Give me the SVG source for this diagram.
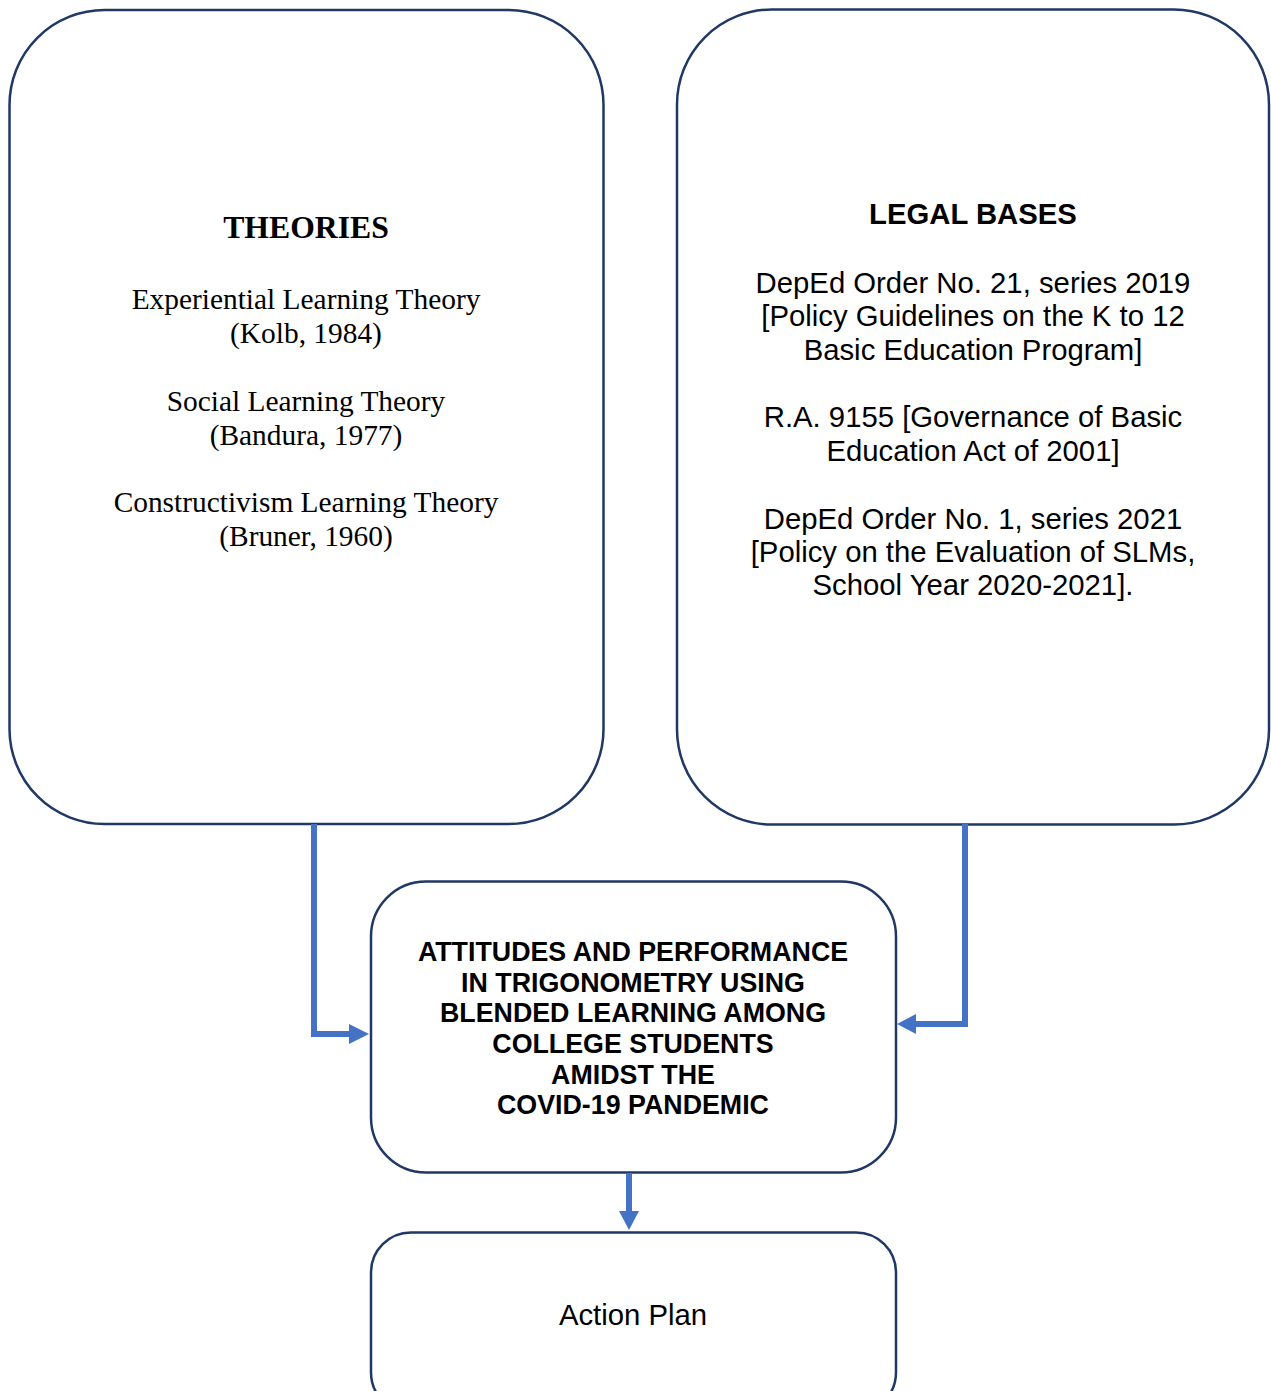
<svg xmlns="http://www.w3.org/2000/svg" width="1271" height="1391" viewBox="0 0 1271 1391">
<style>
.box{fill:#fff;stroke:#203864;stroke-width:2.5}
.conn{fill:none;stroke:#4472C4;stroke-width:6}
.head{fill:#4472C4}
.serif{font-family:"Liberation Serif","Times New Roman",serif;font-size:29.4px;fill:#000;text-anchor:middle}
.sans{font-family:"Liberation Sans",Arial,sans-serif;font-size:29.3px;fill:#000;text-anchor:middle}
.bold{font-weight:bold}
.title{font-size:26.8px}
</style>
<rect width="1271" height="1391" fill="#fff"/>
<g id="theories">
<rect class="box" x="9.5" y="10" width="594" height="814" rx="95"/>
<text class="serif bold" x="306" y="238" style="font-size:31.7px">THEORIES</text>
<text class="serif" x="306" y="309">Experiential Learning Theory</text>
<text class="serif" x="306" y="343">(Kolb, 1984)</text>
<text class="serif" x="306" y="411">Social Learning Theory</text>
<text class="serif" x="306" y="445">(Bandura, 1977)</text>
<text class="serif" x="306" y="512">Constructivism Learning Theory</text>
<text class="serif" x="306" y="546">(Bruner, 1960)</text>
</g>
<g id="legal">
<rect class="box" x="677" y="9.5" width="592" height="815" rx="95"/>
<text class="sans bold" x="973" y="224">LEGAL BASES</text>
<text class="sans" x="973" y="293">DepEd Order No. 21, series 2019</text>
<text class="sans" x="973" y="326">[Policy Guidelines on the K to 12</text>
<text class="sans" x="973" y="360">Basic Education Program]</text>
<text class="sans" x="973" y="427">R.A. 9155 [Governance of Basic</text>
<text class="sans" x="973" y="461">Education Act of 2001]</text>
<text class="sans" x="973" y="529">DepEd Order No. 1, series 2021</text>
<text class="sans" x="973" y="562">[Policy on the Evaluation of SLMs,</text>
<text class="sans" x="973" y="595">School Year 2020-2021].</text>
</g>
<g id="topic">
<rect class="box" x="371" y="881.5" width="525" height="291" rx="55"/>
<text class="sans bold title" x="633" y="961">ATTITUDES AND PERFORMANCE</text>
<text class="sans bold title" x="633" y="992">IN TRIGONOMETRY USING</text>
<text class="sans bold title" x="633" y="1022">BLENDED LEARNING AMONG</text>
<text class="sans bold title" x="633" y="1053">COLLEGE STUDENTS</text>
<text class="sans bold title" x="633" y="1084">AMIDST THE</text>
<text class="sans bold title" x="633" y="1114">COVID-19 PANDEMIC</text>
</g>
<g id="action">
<rect class="box" x="371" y="1232.5" width="525" height="180" rx="40"/>
<text class="sans" x="633" y="1325">Action Plan</text>
</g>
<g id="connectors">
<polyline class="conn" points="314,824 314,1034 350,1034"/>
<polygon class="head" points="349,1024 369,1034 349,1044"/>
<polyline class="conn" points="965,824 965,1024 915,1024"/>
<polygon class="head" points="916,1014 897,1024 916,1034"/>
<line class="conn" x1="629" y1="1173" x2="629" y2="1212"/>
<polygon class="head" points="619,1211 629,1230 639,1211"/>
</g>
</svg>
